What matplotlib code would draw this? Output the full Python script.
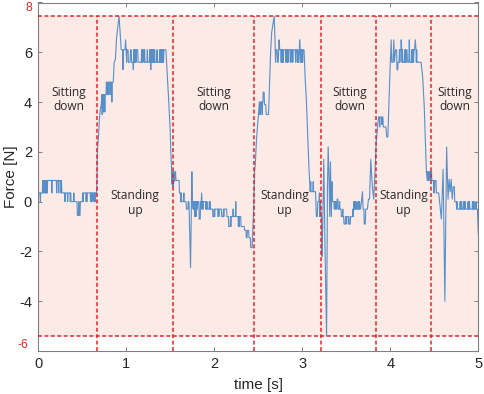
"""Force trace during sit-to-stand cycles"""

import matplotlib
matplotlib.use("Agg")
import matplotlib.pyplot as plt
import matplotlib.transforms as mtransforms

plt.rcParams["font.family"] = ["Liberation Sans", "DejaVu Sans"]

# ---- data (t [s], force [N]), one list per phase ----
sit1 = [
    (0.000, -0.5), (0.004, 0.35), (0.020, 0.35), (0.024, 0.0), (0.028, 0.35), (0.046, 0.35),
    (0.050, 0.85), (0.054, 0.35), (0.058, 0.85), (0.062, 0.35), (0.066, 0.85), (0.070, 0.35),
    (0.074, 0.85), (0.078, 0.35), (0.082, 0.85), (0.086, 0.35), (0.090, 0.85), (0.094, 0.35),
    (0.098, 0.85), (0.102, 0.35), (0.106, 0.85), (0.150, 0.85), (0.154, 0.35), (0.158, 0.85),
    (0.205, 0.85), (0.209, 0.35), (0.213, 0.85), (0.228, 0.85), (0.232, 0.35), (0.236, 0.85),
    (0.255, 0.85), (0.259, 0.35), (0.263, 0.85), (0.268, 0.35), (0.300, 0.35), (0.304, 0.0),
    (0.308, 0.35), (0.330, 0.35), (0.334, 0.0), (0.338, 0.35), (0.360, 0.35), (0.364, 0.0),
    (0.368, 0.35), (0.372, 0.0), (0.400, 0.0), (0.404, 0.35), (0.408, 0.0), (0.440, 0.0),
    (0.444, -0.55), (0.456, -0.55), (0.460, 0.0), (0.464, -0.55), (0.474, -0.55), (0.478, 0.0),
    (0.500, 0.0), (0.504, 0.35), (0.508, 0.0), (0.512, 0.35), (0.540, 0.35), (0.544, 0.0),
    (0.548, 0.35), (0.552, 0.0), (0.556, 0.35), (0.590, 0.35), (0.594, 0.0), (0.598, 0.35),
    (0.602, 0.0), (0.606, 0.35), (0.610, 0.0), (0.614, 0.35), (0.630, 0.35), (0.634, 0.0),
    (0.638, 0.35), (0.642, 0.0), (0.646, 0.35), (0.650, 0.0), (0.654, 0.35), (0.662, 0.35),
]
stand1 = [
    (0.666, 0.8), (0.672, 2.1), (0.684, 2.6), (0.692, 3.2), (0.704, 3.7), (0.716, 3.9),
    (0.722, 4.3), (0.726, 3.5), (0.730, 4.3), (0.738, 4.3), (0.742, 3.6), (0.746, 4.3),
    (0.752, 4.3), (0.756, 3.6), (0.760, 4.3), (0.770, 4.3), (0.774, 4.8), (0.778, 4.3),
    (0.782, 4.8), (0.786, 4.3), (0.790, 4.8), (0.794, 4.3), (0.798, 4.8), (0.812, 4.8),
    (0.816, 4.3), (0.820, 4.8), (0.832, 4.8), (0.836, 4.0), (0.840, 4.8), (0.852, 4.8),
    (0.862, 5.6), (0.876, 5.7), (0.890, 6.6), (0.917, 7.45), (0.930, 6.8), (0.942, 6.1),
    (0.958, 6.1), (0.962, 5.3), (0.968, 6.1), (0.985, 6.1), (0.992, 6.5), (0.998, 6.1),
    (1.004, 5.6), (1.008, 6.1), (1.020, 6.1), (1.024, 5.6), (1.044, 5.6), (1.048, 6.1),
    (1.056, 6.1), (1.060, 5.6), (1.076, 5.6), (1.080, 5.3), (1.084, 6.1), (1.088, 5.6),
    (1.092, 6.1), (1.096, 5.6), (1.100, 6.1), (1.104, 5.6), (1.108, 6.1), (1.112, 5.6),
    (1.116, 6.1), (1.130, 6.1), (1.134, 5.6), (1.170, 5.6), (1.174, 6.1), (1.178, 5.6),
    (1.182, 6.1), (1.186, 5.6), (1.190, 6.1), (1.200, 6.1), (1.204, 5.6), (1.208, 6.1),
    (1.212, 5.6), (1.235, 5.6), (1.239, 6.1), (1.243, 5.6), (1.262, 5.6), (1.266, 6.1),
    (1.270, 5.6), (1.274, 6.1), (1.278, 5.3), (1.282, 6.1), (1.286, 5.6), (1.290, 6.1),
    (1.294, 5.6), (1.298, 6.1), (1.302, 5.6), (1.306, 6.1), (1.310, 5.6), (1.314, 6.1),
    (1.318, 5.6), (1.322, 6.1), (1.326, 5.6), (1.345, 5.6), (1.349, 6.1), (1.353, 5.6),
    (1.375, 5.6), (1.379, 6.1), (1.383, 5.6), (1.387, 6.1), (1.391, 5.6), (1.395, 6.1),
    (1.399, 5.6), (1.403, 6.1), (1.407, 5.6), (1.411, 6.1), (1.415, 5.6), (1.419, 6.1),
    (1.423, 5.6), (1.427, 6.1), (1.450, 6.1), (1.458, 5.6), (1.468, 5.0), (1.478, 4.3),
    (1.488, 3.6), (1.497, 3.0), (1.506, 2.0), (1.514, 1.3), (1.518, 0.7), (1.522, 1.2),
    (1.526, 0.6), (1.530, 1.1), (1.534, 0.6),
]
sit2 = [
    (1.540, 1.2), (1.548, 0.8), (1.552, 1.2), (1.560, 1.2), (1.564, 0.85), (1.600, 0.85),
    (1.604, 0.35), (1.616, 0.35), (1.620, 0.0), (1.624, 0.35), (1.628, 0.0), (1.650, 0.0),
    (1.654, 0.35), (1.658, 0.0), (1.680, 0.0), (1.684, -0.3), (1.700, -0.3), (1.704, 0.0),
    (1.712, 0.0), (1.730, -2.65), (1.745, 1.2), (1.752, 0.0), (1.760, -0.3), (1.764, 0.0),
    (1.768, -0.3), (1.772, 0.0), (1.776, -0.6), (1.780, 0.0), (1.784, -0.3), (1.788, 0.0),
    (1.792, -0.6), (1.796, 0.0), (1.800, -0.3), (1.804, 0.0), (1.808, -0.3), (1.812, 0.0),
    (1.825, 0.0), (1.829, -0.7), (1.840, -0.7), (1.844, 0.0), (1.848, -0.3), (1.852, 0.0),
    (1.856, 0.35), (1.860, 0.0), (1.864, -0.3), (1.868, 0.0), (1.872, -0.3), (1.876, 0.0),
    (1.900, 0.0), (1.904, -0.3), (1.908, 0.0), (1.912, -0.3), (1.916, 0.0), (1.920, -0.3),
    (1.940, -0.3), (1.944, 0.0), (1.948, -0.3), (1.952, 0.0), (1.956, -0.3), (1.980, -0.3),
    (1.984, -0.6), (1.996, -0.6), (2.000, -0.3), (2.004, -0.6), (2.008, -0.3), (2.040, -0.3),
    (2.044, -0.6), (2.048, -0.3), (2.052, -0.6), (2.056, -0.3), (2.080, -0.3), (2.084, -0.6),
    (2.100, -0.6), (2.104, -0.3), (2.108, -0.6), (2.112, -0.3), (2.140, -0.3), (2.144, -0.6),
    (2.160, -0.6), (2.164, -1.0), (2.180, -1.0), (2.184, -0.6), (2.188, -1.0), (2.192, -0.6),
    (2.210, -0.6), (2.214, -0.3), (2.218, -0.6), (2.240, -0.6), (2.244, 0.0), (2.248, -0.6),
    (2.270, -0.6), (2.274, -1.0), (2.278, -0.6), (2.282, -1.0), (2.286, -0.6), (2.300, -0.6),
    (2.304, -1.0), (2.340, -1.0), (2.344, -1.15), (2.360, -1.15), (2.364, -1.45), (2.372, -1.45),
    (2.376, -1.15), (2.390, -1.15), (2.394, -1.45), (2.410, -1.45), (2.414, -1.85), (2.430, -1.85),
    (2.434, -1.5),
]
stand2 = [
    (2.440, -1.0), (2.450, 0.0), (2.458, 1.2), (2.466, 1.5), (2.478, 2.4), (2.490, 3.0),
    (2.500, 3.4), (2.512, 4.0), (2.516, 3.5), (2.520, 4.0), (2.524, 3.5), (2.528, 4.0),
    (2.540, 4.0), (2.544, 3.5), (2.548, 4.0), (2.552, 4.0), (2.556, 4.4), (2.566, 4.4),
    (2.570, 3.9), (2.584, 3.9), (2.590, 3.5), (2.616, 3.5), (2.628, 4.8), (2.640, 6.0),
    (2.652, 6.8), (2.680, 7.45), (2.690, 6.5), (2.696, 5.6), (2.702, 6.1), (2.714, 6.1),
    (2.718, 5.6), (2.726, 5.6), (2.736, 6.5), (2.744, 6.1), (2.756, 6.1), (2.760, 5.6),
    (2.764, 6.1), (2.768, 5.6), (2.772, 6.1), (2.776, 5.6), (2.780, 6.1), (2.784, 5.6),
    (2.788, 6.1), (2.810, 6.1), (2.814, 5.6), (2.818, 6.1), (2.822, 5.6), (2.826, 6.1),
    (2.830, 5.6), (2.834, 6.1), (2.838, 5.6), (2.842, 6.1), (2.860, 6.1), (2.864, 5.6),
    (2.868, 6.1), (2.880, 6.1), (2.884, 5.6), (2.888, 6.1), (2.892, 5.6), (2.896, 6.1),
    (2.920, 6.1), (2.924, 5.6), (2.928, 6.1), (2.940, 6.1), (2.944, 5.6), (2.948, 6.1),
    (2.952, 5.6), (2.960, 5.6), (2.970, 6.5), (2.976, 6.1), (2.980, 5.6), (2.984, 6.1),
    (2.988, 5.6), (2.992, 6.1), (2.996, 5.6), (3.000, 6.1), (3.004, 5.6), (3.008, 6.1),
    (3.020, 6.1), (3.032, 5.0), (3.046, 4.1), (3.060, 2.8), (3.076, 1.3), (3.090, 0.4),
    (3.096, 0.8), (3.100, 0.4), (3.120, 0.4), (3.124, 0.8), (3.128, 0.4), (3.150, 0.4),
    (3.154, 0.0), (3.160, -0.6), (3.170, -0.6), (3.176, 0.0), (3.190, 0.0), (3.194, 0.35),
    (3.200, -0.6), (3.206, 0.0), (3.212, -0.6),
]
sit3 = [
    (3.218, -0.6), (3.224, -2.2), (3.232, -1.0), (3.244, 1.7), (3.256, -1.4), (3.276, -5.4),
    (3.286, 0.6), (3.294, 2.2), (3.304, 0.9), (3.312, -0.6), (3.320, 1.6), (3.330, -0.6),
    (3.338, 0.8), (3.344, 0.0), (3.360, 0.0), (3.364, -0.3), (3.368, 0.0), (3.372, -0.3),
    (3.380, 0.0), (3.384, -0.3), (3.392, -0.3), (3.396, 0.1), (3.404, 0.1), (3.408, -0.3),
    (3.420, -0.3), (3.424, 0.0), (3.428, -0.3), (3.440, -0.3), (3.444, -0.6), (3.456, -0.6),
    (3.460, -0.3), (3.464, -0.6), (3.470, -0.6), (3.474, -0.9), (3.488, -0.9), (3.492, -0.6),
    (3.496, -0.9), (3.500, -0.6), (3.520, -0.6), (3.524, -0.9), (3.528, -0.6), (3.532, -0.9),
    (3.545, -0.9), (3.549, -0.6), (3.570, -0.6), (3.574, -0.3), (3.578, -0.6), (3.582, -0.3),
    (3.586, 0.0), (3.590, -0.3), (3.594, 0.0), (3.598, -0.3), (3.602, 0.0), (3.606, -0.3),
    (3.610, 0.0), (3.614, -0.3), (3.630, -0.3), (3.634, 0.0), (3.638, -0.3), (3.642, 0.0),
    (3.646, -0.3), (3.650, 0.0), (3.654, -0.3), (3.660, -0.3), (3.672, 0.0), (3.684, 0.4),
    (3.690, -0.3), (3.700, -0.3), (3.704, -0.9), (3.716, -0.9), (3.720, -0.3), (3.740, -0.3),
    (3.752, 0.1), (3.764, 0.1), (3.778, 1.7), (3.796, 0.6), (3.812, 0.1), (3.826, 1.2),
]
stand3 = [
    (3.840, 2.4), (3.856, 3.0), (3.866, 3.4), (3.876, 3.4), (3.880, 3.0), (3.884, 3.4),
    (3.900, 3.4), (3.904, 3.1), (3.908, 3.4), (3.916, 3.4), (3.920, 3.0), (3.950, 3.0),
    (3.960, 2.6), (3.972, 2.6), (3.986, 4.1), (3.998, 5.4), (4.010, 6.5), (4.016, 5.6),
    (4.030, 5.6), (4.040, 6.5), (4.046, 5.6), (4.060, 6.1), (4.072, 6.1), (4.076, 5.3),
    (4.084, 5.3), (4.088, 5.6), (4.100, 5.6), (4.104, 6.1), (4.108, 5.6), (4.112, 6.1),
    (4.120, 6.1), (4.124, 6.5), (4.130, 6.1), (4.134, 5.6), (4.138, 6.1), (4.142, 5.6),
    (4.160, 5.6), (4.164, 6.1), (4.168, 5.6), (4.172, 6.1), (4.176, 5.6), (4.180, 6.1),
    (4.190, 6.1), (4.194, 5.6), (4.210, 5.6), (4.216, 6.5), (4.222, 5.6), (4.240, 5.6),
    (4.244, 6.1), (4.248, 5.6), (4.252, 6.1), (4.256, 5.6), (4.260, 6.1), (4.264, 5.6),
    (4.268, 6.1), (4.276, 6.1), (4.284, 6.5), (4.292, 6.1), (4.296, 5.6), (4.300, 6.1),
    (4.304, 5.6), (4.350, 5.6), (4.368, 5.0), (4.386, 3.8), (4.398, 2.5), (4.410, 1.2),
    (4.420, 0.85), (4.424, 1.2), (4.428, 0.85), (4.432, 1.2), (4.436, 0.85), (4.440, 1.2),
    (4.450, 1.2), (4.454, 0.85), (4.458, 1.2),
]
sit4 = [
    (4.464, 0.85), (4.468, 1.2), (4.472, 0.85), (4.490, 0.85), (4.494, 0.35), (4.498, 0.85),
    (4.502, 0.35), (4.506, 0.85), (4.520, 0.85), (4.524, 0.35), (4.550, 0.35), (4.580, -0.7),
    (4.600, 1.3), (4.620, -4.0), (4.640, 2.2), (4.656, 0.1), (4.668, 0.9), (4.680, 0.4),
    (4.692, 0.9), (4.704, 0.1), (4.716, 0.6), (4.728, 0.6), (4.732, 0.0), (4.750, 0.0),
    (4.754, -0.3), (4.758, 0.0), (4.762, -0.3), (4.790, -0.3), (4.794, 0.0), (4.798, -0.3),
    (4.802, 0.0), (4.806, -0.3), (4.810, 0.0), (4.814, -0.3), (4.830, -0.3), (4.834, 0.0),
    (4.838, -0.3), (4.842, 0.0), (4.846, -0.3), (4.850, 0.0), (4.854, -0.3), (4.880, -0.3),
    (4.884, 0.0), (4.888, -0.3), (4.892, 0.0), (4.896, -0.3), (4.900, 0.0), (4.904, -0.3),
    (4.930, -0.3), (4.934, 0.0), (4.938, -0.3), (4.942, 0.0), (4.946, -0.3), (4.950, 0.0),
    (4.954, -0.3), (4.970, -0.3), (4.974, 0.0), (4.980, -0.3), (4.990, -0.3), (5.000, -1.3),
]

phase_bounds = [0.664, 1.534, 2.448, 3.213, 3.834, 4.459]
force_band = (-5.4, 7.45)
phase_labels = ["Sitting\ndown", "Standing\nup", "Sitting\ndown", "Standing\nup",
                "Sitting\ndown", "Standing\nup", "Sitting\ndown"]
label_t = [0.343, 1.10, 1.99, 2.80, 3.54, 4.15, 4.735]
label_f = [4.1, -0.05, 4.1, -0.05, 4.1, -0.05, 4.1]

RED = "#e0252a"
INK = "#262626"
PINK = "#fbeae6"
LINE = "#568fca"

trace = sit1 + stand1 + sit2 + stand2 + sit3 + stand3 + sit4
time_s = [p[0] for p in trace]
force_n = [p[1] for p in trace]

fig = plt.figure(figsize=(4.84, 3.94), dpi=100)
ax = fig.add_axes([38.3 / 484, 1 - 351 / 394, 440 / 484, 348.5 / 394])

ax.axhspan(*force_band, color=PINK, lw=0, zorder=0)
ax.plot(time_s, force_n, color=LINE, lw=0.8, zorder=2)

dash = (0, (2.6, 1.6))
for yv in force_band:
    ax.axhline(yv, color=RED, lw=1.1, linestyle=dash, zorder=3)
for xv in phase_bounds:
    ax.plot([xv, xv], [-6, force_band[1]], color=RED, lw=1.1, linestyle=dash, zorder=3)

for t, f, s in zip(label_t, label_f, phase_labels):
    ax.text(t, f, s, ha="center", va="center", fontsize=8.6, color="#2a2a2a",
            family=["Open Sans", "DejaVu Sans"], linespacing=1.15, zorder=4)

ax.set_xlim(0, 5)
ax.set_ylim(-6, 8)
ax.set_xticks([0, 1, 2, 3, 4, 5])
ax.set_yticks([-6, -4, -2, 0, 2, 4, 6, 8])
ax.set_yticklabels(["", "-4", "-2", "0", "2", "4", "6", ""])
ax.tick_params(direction="in", length=3, width=0.7, colors="#808080",
               labelcolor=INK, labelsize=10.5, pad=4.5,
               top=True, right=True)

# red end labels sit a little inside the axis limits
trans = mtransforms.blended_transform_factory(ax.transAxes, ax.transData)
ax.text(-0.0145, 7.78, "8", color=RED, fontsize=8.8, ha="right", va="center", transform=trans)
ax.text(-0.0235, -5.74, "-6", color=RED, fontsize=8.8, ha="right", va="center", transform=trans)

for sp in ax.spines.values():
    sp.set_color("#808080")
    sp.set_linewidth(0.8)

ax.set_xlabel("time [s]", fontsize=11, color=INK, labelpad=5)
ax.set_ylabel("Force [N]", fontsize=11, color=INK, labelpad=1)

fig.savefig("out.png", dpi=100)
